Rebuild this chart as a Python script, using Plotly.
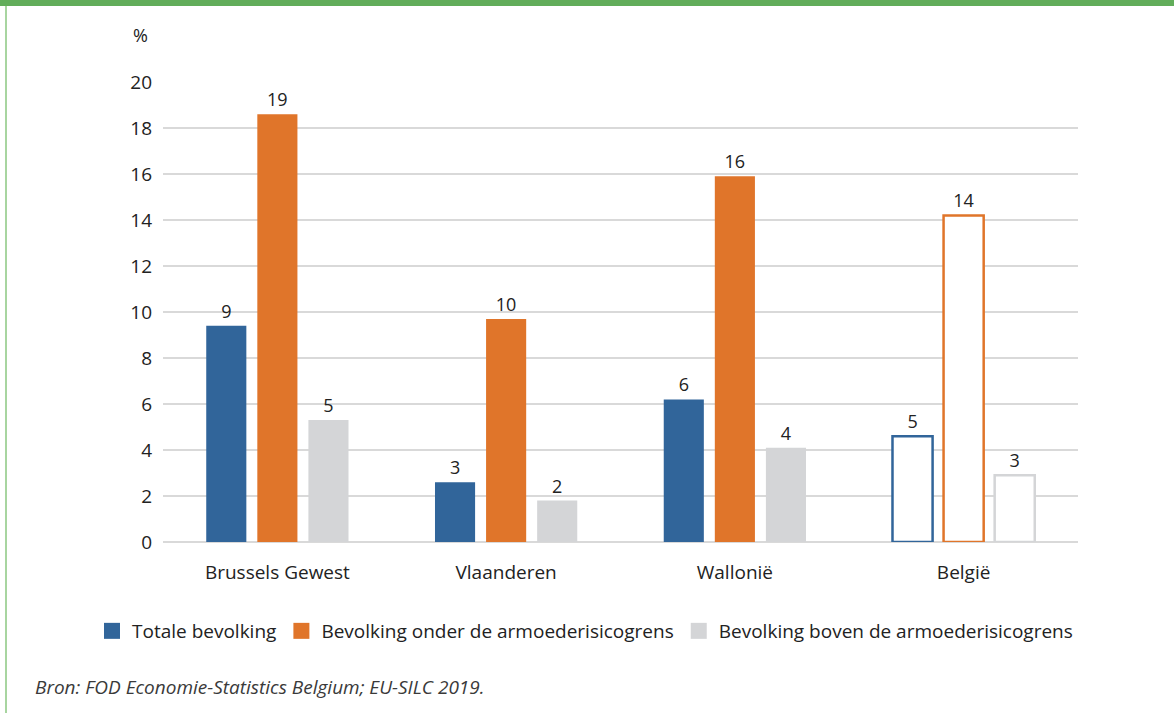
import plotly.graph_objects as go

regions = ["Brussels Gewest", "Vlaanderen", "Wallonië", "België"]
totale = [9.4, 2.6, 6.2, 4.6]
onder = [18.6, 9.7, 15.9, 14.2]
boven = [5.3, 1.8, 4.1, 2.9]
y_ticks = [0, 2, 4, 6, 8, 10, 12, 14, 16, 18, 20]

series = [
    ("Totale bevolking", totale, "#31659a"),
    ("Bevolking onder de armoederisicogrens", onder, "#e0752a"),
    ("Bevolking boven de armoederisicogrens", boven, "#d4d5d7"),
]

FONT = "Open Sans"
L, R, T, B = 163, 96, 82, 171
W, H = 1174, 713
pw, ph = W - L - R, H - T - B


def px_x(x):
    return (x - L) / pw


def px_y(y):
    return (H - B - y) / ph


fig = go.Figure()
for name, vals, color in series:
    # the last group (België) is drawn as outline only
    fills = [color] * (len(vals) - 1) + ["white"]
    widths = [0] * (len(vals) - 1) + [2.5]
    fig.add_trace(
        go.Bar(
            x=regions,
            y=vals,
            name=name,
            showlegend=False,
            marker={"color": fills, "line": {"color": color, "width": widths}},
            texttemplate="%{y:.0f}",
            textposition="outside",
            textfont={"size": 18, "color": "#222222"},
            cliponaxis=False,
        )
    )
    # legend entry with a bigger square swatch
    fig.add_trace(
        go.Scatter(
            x=[None], y=[None], mode="markers", name=name,
            marker={"symbol": "square", "size": 16, "color": color},
        )
    )

fig.update_layout(
    width=W,
    height=H,
    paper_bgcolor="white",
    plot_bgcolor="white",
    font={"family": FONT, "color": "#222222", "size": 18},
    margin={"l": L, "r": R, "t": T, "b": B},
    barmode="group",
    bargap=0.33,
    bargroupgap=0.215,
    legend={
        "orientation": "h",
        "x": px_x(92),
        "xanchor": "left",
        "y": px_y(631),
        "yanchor": "middle",
        "font": {"size": 19, "color": "#222222"},
        "itemwidth": 30,
    },
    uniformtext={"mode": "show", "minsize": 18},
)
fig.update_yaxes(
    range=[0, 20],
    tickvals=y_ticks,
    showgrid=True,
    gridcolor="#d9d9d9",
    gridwidth=1.5,
    zeroline=True,
    zerolinecolor="#d9d9d9",
    zerolinewidth=1.5,
    showline=False,
    ticklabelstandoff=10,
    tickfont={"size": 19, "color": "#222222"},
)
fig.update_xaxes(
    showline=False,
    ticks="",
    ticklabelstandoff=17,
    tickfont={"size": 19, "color": "#222222"},
)

fig.add_annotation(
    text="%", xref="paper", yref="paper", x=px_x(140), y=px_y(35),
    xanchor="center", yanchor="middle",
    showarrow=False, font={"size": 18, "color": "#222222"},
)
fig.add_annotation(
    text="<i>Bron: FOD Economie-Statistics Belgium; EU-SILC 2019.</i>",
    xref="paper", yref="paper", x=px_x(33), y=px_y(687),
    xanchor="left", yanchor="middle", showarrow=False,
    font={"size": 19, "color": "#3a3a3a"},
)

# green frame: thick bar on top, thin line on the left
fig.add_shape(
    type="rect", xref="paper", yref="paper",
    x0=px_x(0), x1=px_x(W), y0=px_y(6), y1=px_y(0),
    fillcolor="#62ad5a", line={"width": 0}, layer="above",
)
fig.add_shape(
    type="line", xref="paper", yref="paper",
    x0=px_x(6), x1=px_x(6), y0=px_y(H), y1=px_y(6),
    line={"color": "#a8d5a0", "width": 2}, layer="above",
)

# drop the default page margin so the figure sits at the window corner
fig.write_html(
    "out.html",
    config={"displayModeBar": False},
    post_script="document.body.style.margin='0';",
)
